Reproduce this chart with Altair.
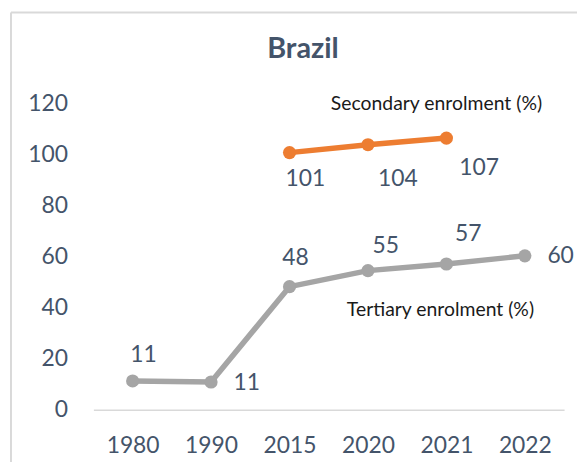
import altair as alt
import pandas as pd

# ---- data ----
years = ["1980", "1990", "2015", "2020", "2021", "2022"]
tertiary = [11.3, 10.9, 48.3, 54.6, 57.2, 60.4]
tertiary_labels = ["11", "11", "48", "55", "57", "60"]

secondary_years = ["2015", "2020", "2021"]
secondary = [100.9, 104.0, 106.6]
secondary_labels = ["101", "104", "107"]

annot_text = ["Secondary enrolment (%)", "Tertiary enrolment (%)"]
annot_year = ["2021", "2021"]
annot_value = [120, 39]

title_text = "Brazil"

# ---- styles ----
TXT = "#44546A"
FONT = "Lato"
GRAY = "#A5A5A5"
ORANGE = "#ED7D31"

df_t = pd.DataFrame({"year": years, "value": tertiary, "label": tertiary_labels})
df_s = pd.DataFrame({"year": secondary_years, "value": secondary, "label": secondary_labels})
df_a = pd.DataFrame({"year": annot_year, "value": annot_value, "text": annot_text})

xscale = alt.Scale(type="point", domain=years, padding=0.5)
yscale = alt.Scale(domain=[0, 120])

x_enc = alt.X("year:N", scale=xscale, sort=years,
              axis=alt.Axis(title=None, labelAngle=0, ticks=False, domain=True,
                            domainColor="#D9D9D9", domainWidth=1.5, grid=False,
                            labelFont=FONT, labelFontSize=23, labelColor=TXT,
                            labelPadding=25))
y_enc = alt.Y("value:Q", scale=yscale,
              axis=alt.Axis(title=None, values=[0, 20, 40, 60, 80, 100, 120],
                            ticks=False, domain=False, grid=False,
                            labelFont=FONT, labelFontSize=23, labelColor=TXT,
                            labelPadding=26))


def series(df, color):
    base = alt.Chart(df).encode(x=x_enc, y=y_enc)
    line = base.mark_line(color=color, strokeWidth=5.5)
    pts = base.mark_circle(color=color, size=175, opacity=1)
    return [line, pts]


# label offsets (dx, dy) per point
t_offsets = [(11, -26), (36, 1), (6, -29), (18, -25), (22, -30), (36, 0)]
s_offsets = [(16, 27), (30, 35), (33, 30)]


def labels(df, offsets):
    out = []
    for (yr, (dx, dy)) in zip(df["year"], offsets):
        out.append(
            alt.Chart(df).transform_filter(alt.datum.year == yr)
            .mark_text(font=FONT, fontSize=23, color=TXT, dx=dx, dy=dy,
                       align="center", baseline="middle")
            .encode(x=alt.X("year:N", scale=xscale, sort=years),
                    y=alt.Y("value:Q", scale=yscale),
                    text="label:N")
        )
    return out


annots = []
for a_dx, txt in zip([-10, -6], annot_text):
    annots.append(
        alt.Chart(df_a).transform_filter(alt.datum.text == txt)
        .mark_text(font=FONT, fontSize=19.5, color="#1A1A1A", dx=a_dx,
                   align="center", baseline="middle")
        .encode(x=alt.X("year:N", scale=xscale, sort=years),
                y=alt.Y("value:Q", scale=yscale),
                text="text:N")
    )

frame_df = pd.DataFrame({"k": [0]})
border_left = alt.Chart(frame_df).mark_rule(color="#D9D9D9", strokeWidth=2).encode(
    x=alt.value(-83), y=alt.value(-92), y2=alt.value(370))
border_top = alt.Chart(frame_df).mark_rule(color="#D9D9D9", strokeWidth=2).encode(
    x=alt.value(-83), x2=alt.value(500), y=alt.value(-92))

layers = [border_left, border_top] + series(df_t, GRAY) + series(df_s, ORANGE) \
    + labels(df_t, t_offsets) + labels(df_s, s_offsets) + annots

chart = alt.layer(*layers).properties(
    width=474, height=308,
    title=alt.TitleParams(title_text, font=FONT, fontSize=29, fontWeight="bold",
                          color=TXT, anchor="middle", frame="group", dx=-26,
                          baseline="alphabetic", offset=-76),
    autosize=alt.AutoSizeParams(type="none"),
    padding={"left": 86, "top": 95, "right": 13, "bottom": 51},
).configure(background="white").configure_view(stroke=None)

chart.save("out.html", embed_options={"renderer": "svg", "actions": False})
